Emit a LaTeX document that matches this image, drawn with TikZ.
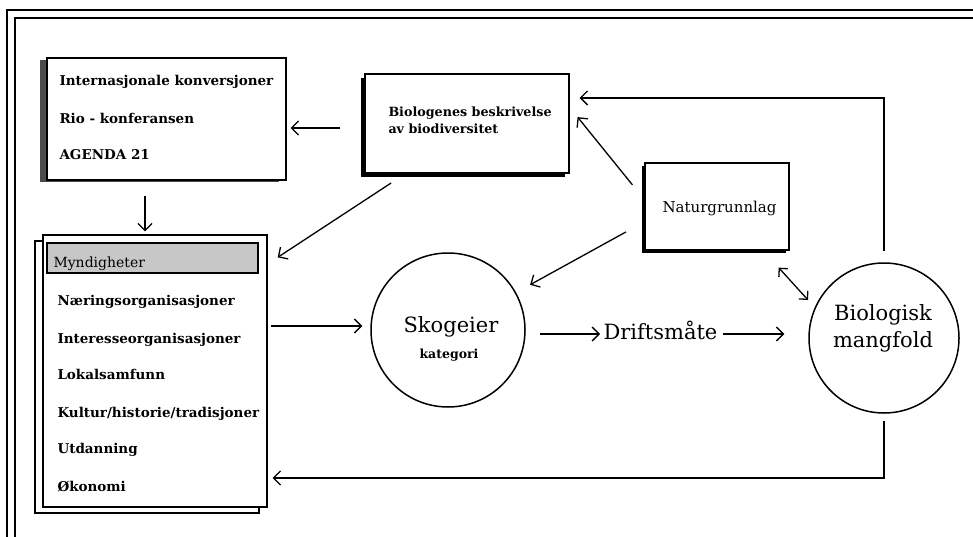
\documentclass[tikz,border=0pt]{standalone}
\usepackage{fontspec}
\setmainfont{DejaVu Serif}
\usetikzlibrary{arrows.meta,calc,shadows}
\begin{document}
\begin{tikzpicture}[x=1pt,y=-1pt,line width=1pt,
  arr/.style={-{Straight Barb[length=7pt,width=14pt,line width=1.3pt]},line width=1.3pt},
  dblarr/.style={{Straight Barb[length=6pt,width=12pt,line width=1.3pt]}-{Straight Barb[length=6pt,width=12pt,line width=1.3pt]},line width=1.3pt},
  boxnode/.style={draw,fill=white,inner sep=0pt,line width=1.3pt},
  ringnode/.style={draw,circle,inner sep=0pt,line width=1.5pt},
  itemtext/.style={anchor=base west,inner sep=0pt,font=\bfseries\fontsize{13.5}{15}\selectfont},
  bigtext/.style={anchor=base,inner sep=0pt,font=\fontsize{21}{24}\selectfont},
  frameline/.style={line width=1.2pt}]
\useasboundingbox (0,0) rectangle (973,537);
% frame
\draw[frameline] (7,537) -- (7,10) -- (973,10);
\draw[frameline] (15,537) -- (15,18) -- (973,18);
% boxes
\node[boxnode,minimum width=239pt,minimum height=122pt,
  drop shadow={shadow xshift=-7pt,shadow yshift=-2pt,fill=black!70,opacity=1}] (box1) at (166.5,119) {};
\node[boxnode,minimum width=224pt,minimum height=272pt,
  general shadow={shadow xshift=-8pt,shadow yshift=-6pt,fill=white,draw=black,line width=1.2pt}] (box2) at (155,371) {};
\node[draw,fill=black!22,line width=1.2pt,minimum width=211pt,minimum height=30pt,inner sep=0pt] (myn) at (152.5,258) {};
\node[boxnode,minimum width=204pt,minimum height=99pt,
  drop shadow={shadow xshift=-4pt,shadow yshift=-4pt,fill=black,opacity=1}] (bio) at (467,123.5) {};
\node[boxnode,minimum width=144pt,minimum height=87pt,
  drop shadow={shadow xshift=-3pt,shadow yshift=-3pt,fill=black,opacity=1}] (nat) at (717,206.5) {};
\node[ringnode,minimum size=154pt] (skog) at (448,330) {};
\node[ringnode,minimum size=150pt] (bm) at (884,338) {};
% texts
\node[itemtext] (t1) at (59,86) {Internasjonale konversjoner};
\node[itemtext] (t2) at (59,124) {Rio - konferansen};
\node[itemtext] (t3) at (59,160) {AGENDA 21};
\node[itemtext,font=\fontsize{14}{15}\selectfont] (m0) at (53,267) {Myndigheter};
\node[itemtext] (m1) at (57,305) {Næringsorganisasjoner};
\node[itemtext] (m2) at (57,343) {Interesseorganisasjoner};
\node[itemtext] (m3) at (57,379) {Lokalsamfunn};
\node[itemtext] (m4) at (57,417) {Kultur/historie/tradisjoner};
\node[itemtext] (m5) at (57,453) {Utdanning};
\node[itemtext] (m6) at (57,491) {Økonomi};
\node[itemtext,font=\bfseries\fontsize{12.7}{14}\selectfont] (b1) at (388,117) {Biologenes beskrivelse};
\node[itemtext,font=\bfseries\fontsize{12.7}{14}\selectfont] (b2) at (388,134) {av biodiversitet};
\node[itemtext,font=\fontsize{15}{17}\selectfont] (n1) at (662,212) {Naturgrunnlag};
\node[bigtext] (s1) at (451,332) {Skogeier};
\node[anchor=base,inner sep=0pt,font=\bfseries\fontsize{12.5}{14}\selectfont] (s2) at (449,358) {kategori};
\node[bigtext,anchor=base west] (drift) at (603,339) {Driftsmåte};
\node[bigtext] (g1) at (883,320) {Biologisk};
\node[bigtext] (g2) at (883,347) {mangfold};
% connectors
\coordinate (a1) at ($(bio.west)+(-24,4.5)$);
\draw[arr,shorten >=4pt] (a1) -- (a1 -| box1.east);
\draw[arr,shorten <=15pt,shorten >=3pt] (box1.south -| 145,0) -- (box2.north -| 145,0);
\draw[arr,shorten <=17pt,shorten >=12pt] ($(bio.south west)+(41,0)$) -- ($(box2.north east)+(0,29.6)$);
\draw[arr,shorten <=19pt,shorten >=12.6pt] ($(nat.west)+(0,-6.9)$) -- ($(bio.east)+(0,-16.2)$);
\draw[arr,shorten <=21pt,shorten >=16pt] ($(nat.west)+(0,15.3)$) -- (skog);
\draw[arr,shorten <=3pt,shorten >=8pt] (box2.east |- 0,326) -- (skog.west |- 0,326);
\draw[arr,shorten <=14pt,shorten >=3pt] (skog.east |- 0,334) -- (drift.west |- 0,334);
\draw[arr,shorten <=5pt,shorten >=24pt] (drift.east |- 0,334) -- (bm.west |- 0,334);
\draw[dblarr] ($(nat.south east)+(-11,17)$) -- ($(bm)+(-76,-38)$);
\draw[arr,shorten <=11pt,shorten >=10pt] (bm.north) |- ([yshift=25.5pt]bio.east);
\draw[arr,shorten <=7pt,shorten >=5pt] (bm.south) |- ([yshift=-107pt]box2.east);
\end{tikzpicture}
\end{document}
